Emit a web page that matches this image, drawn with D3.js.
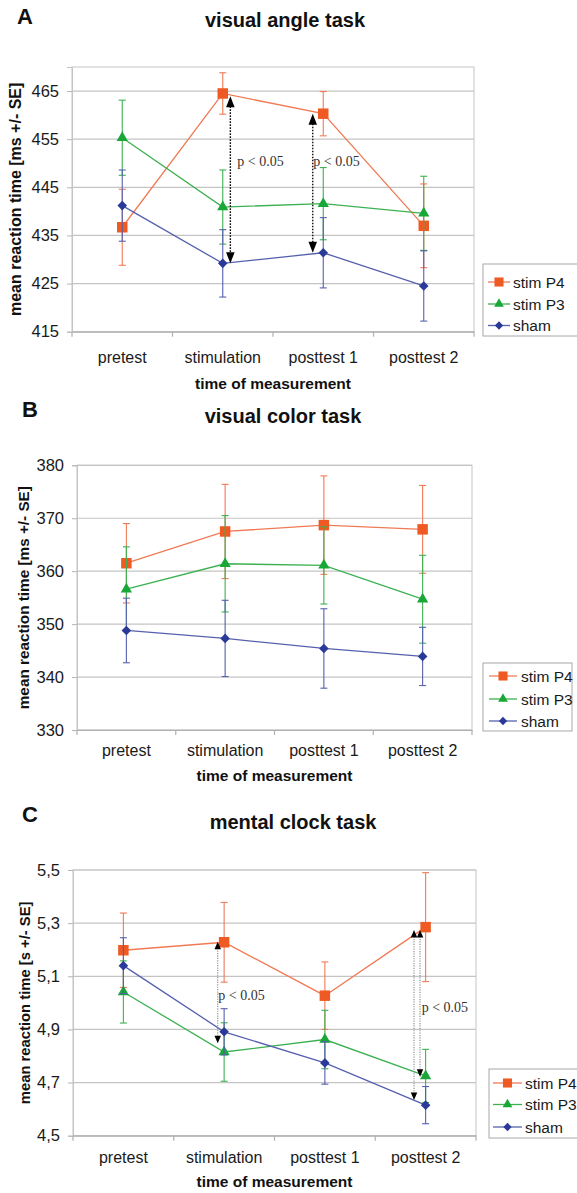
<!DOCTYPE html>
<html><head><meta charset="utf-8">
<script src="https://cdn.jsdelivr.net/npm/d3@7"></script>
<style>body{margin:0;background:#fff}</style>
</head><body><div id="chart"></div>
<script>
// ---------- data ----------
const categories = ["pretest", "stimulation", "posttest 1", "posttest 2"];
const seriesNames = ["stim P4", "stim P3", "sham"];

// A: visual angle task (ms)
const angleTicks = [415, 425, 435, 445, 455, 465];
const angleP4 = [436.7, 464.5, 460.3, 437.0];
const angleP4Err = [7.9, 4.3, 4.6, 8.7];
const angleP3 = [455.3, 440.9, 441.6, 439.6];
const angleP3Err = [7.8, 7.7, 7.5, 7.7];
const angleSham = [441.2, 429.2, 431.4, 424.5];
const angleShamErr = [7.4, 7.0, 7.3, 7.3];
const angleSigCats = ["stimulation", "posttest 1"];
const angleSigTop = [463.9, 460.3];
const angleSigBottom = [429.2, 431.4];
const angleSigLabelCats = ["stimulation", "posttest 1"];
const angleSigLabelVals = [449.5, 449.5];

// B: visual color task (ms)
const colorTicks = [330, 340, 350, 360, 370, 380];
const colorP4 = [361.5, 367.5, 368.7, 367.9];
const colorP4Err = [7.5, 8.9, 9.3, 8.3];
const colorP3 = [356.6, 361.4, 361.1, 354.7];
const colorP3Err = [8.0, 9.1, 7.3, 8.3];
const colorSham = [348.8, 347.3, 345.4, 343.9];
const colorShamErr = [6.1, 7.2, 7.5, 5.5];

// C: mental clock task (s)
const clockTicks = [4.5, 4.7, 4.9, 5.1, 5.3, 5.5];
const clockP4 = [5.198, 5.228, 5.027, 5.285];
const clockP4Err = [0.14, 0.15, 0.127, 0.205];
const clockP3 = [5.041, 4.815, 4.862, 4.725];
const clockP3Err = [0.117, 0.11, 0.11, 0.1];
const clockSham = [5.140, 4.891, 4.774, 4.615];
const clockShamErr = [0.105, 0.087, 0.08, 0.07];
const clockSigCats = ["stimulation", "posttest 2", "posttest 2"];
const clockSigTop = [5.23, 5.274, 5.274];
const clockSigBottom = [4.848, 4.634, 4.722];
const clockSigLabelCats = ["stimulation", "posttest 2"];
const clockSigLabelVals = [5.011, 4.967];

// ---------- styles ----------
const seriesStyle = [
  {marker: "#EF5A24", line: "#F07A55", symbol: "square"},
  {marker: "#19A838", line: "#3CB152", symbol: "triangle"},
  {marker: "#2A3A98", line: "#5560AE", symbol: "diamond"}
];

const W = 577, H = 1193;
const svg = d3.select("#chart").append("svg").attr("width", W).attr("height", H)
  .style("font-family", "Arial, 'Liberation Sans', sans-serif");

function symbolPath(kind, scale) {
  scale = scale || 1;
  if (kind === "square") return d3.symbol(d3.symbolSquare, 110 * scale)();
  if (kind === "triangle") return d3.symbol(d3.symbolTriangle, 55 * scale)();
  return d3.symbol(d3.symbolSquare, 46 * scale)();
}
function symbolRot(kind) { return kind === "diamond" ? 45 : 0; }

const dec = d3.format(".1f");
const panels = [
  {
    letter: "A", letterX: 17, letterY: 24, title: "visual angle task", titleX: 285, titleY: 26.5,
    left: 72, right: 474, top: 67, bottom: 331.7, domain: [415, 470], ticks: angleTicks,
    fmt: d3.format("d"), yLabel: "mean reaction time [ms +/- SE]", yLabelX: 15, yLabelSize: 16,
    catY: 363, xTitleY: 388.5,
    values: [angleP4, angleP3, angleSham], errors: [angleP4Err, angleP3Err, angleShamErr],
    legend: {x: 483, y: 264, w: 96, h: 72, rows: [282, 304, 325.5], lx1: 488, lx2: 510, tx: 513},
    sig: {cats: angleSigCats, top: angleSigTop, bottom: angleSigBottom, dx: [7.6, -10.5],
          lineColor: "#111", dash: "1.6,1.4", lineW: 1.4, headW: 8.5, headH: 11,
          labelCats: angleSigLabelCats, labelVals: angleSigLabelVals, labelDx: [14.6, -10]}
  },
  {
    letter: "B", letterX: 22, letterY: 416.7, title: "visual color task", titleX: 283, titleY: 423.3,
    left: 77, right: 472, top: 465.3, bottom: 730, domain: [330, 380], ticks: colorTicks,
    fmt: d3.format("d"), yLabel: "mean reaction time [ms +/- SE]", yLabelX: 23, yLabelSize: 15.3,
    catY: 756, xTitleY: 781,
    values: [colorP4, colorP3, colorSham], errors: [colorP4Err, colorP3Err, colorShamErr],
    legend: {x: 483, y: 663, w: 89, h: 68, rows: [676, 699, 721], lx1: 489, lx2: 517, tx: 521},
    sig: null
  },
  {
    letter: "C", letterX: 22, letterY: 821.7, title: "mental clock task", titleX: 293, titleY: 829.3,
    left: 73, right: 476, top: 870, bottom: 1135.7, domain: [4.5, 5.5], ticks: clockTicks,
    fmt: v => dec(v).replace(".", ","), yLabel: "mean reaction time [s +/- SE]", yLabelX: 25, yLabelSize: 14.8,
    catY: 1162.7, xTitleY: 1187,
    values: [clockP4, clockP3, clockSham], errors: [clockP4Err, clockP3Err, clockShamErr],
    legend: {x: 489, y: 1069, w: 90, h: 69, rows: [1083, 1104.5, 1127], lx1: 493, lx2: 522, tx: 525},
    sig: {cats: clockSigCats, top: clockSigTop, bottom: clockSigBottom, dx: [-6.4, -11.6, -5.6],
          lineColor: "#8a8a8a", dash: "1.2,1.2", lineW: 1.1, headW: 6.5, headH: 7.5,
          labelCats: clockSigLabelCats, labelVals: clockSigLabelVals, labelDx: [-5.8, -3.9]}
  }
];

panels.forEach(p => {
  const g = svg.append("g");
  const x = d3.scaleBand().domain(categories).range([p.left, p.right]);
  const y = d3.scaleLinear().domain(p.domain).range([p.bottom, p.top]);
  const cx = c => x(c) + x.bandwidth() / 2;

  // letter and title
  g.append("text").attr("x", p.letterX).attr("y", p.letterY).text(p.letter)
    .attr("font-size", 22).attr("font-weight", "bold").attr("fill", "#111");
  g.append("text").attr("x", p.titleX).attr("y", p.titleY).text(p.title)
    .attr("text-anchor", "middle").attr("font-size", 20).attr("font-weight", "bold").attr("fill", "#111");

  // plot border
  g.append("rect").attr("x", p.left).attr("y", p.top)
    .attr("width", p.right - p.left).attr("height", p.bottom - p.top)
    .attr("fill", "none").attr("stroke", "#cfcfcf").attr("stroke-width", 1.2);

  // gridlines
  g.selectAll("line.grid").data(p.ticks).join("line").attr("class", "grid")
    .attr("x1", p.left).attr("x2", p.right)
    .attr("y1", d => y(d)).attr("y2", d => y(d))
    .attr("stroke", "#c4c4c4").attr("stroke-width", 1.2);

  // y axis
  const ya = g.append("g").attr("transform", `translate(${p.left},0)`)
    .call(d3.axisLeft(y).tickValues(p.ticks).tickSize(5).tickPadding(8).tickFormat(p.fmt));
  ya.select(".domain").attr("stroke", "#c4c4c4");
  ya.selectAll(".tick line").attr("stroke", "#b4b4b4");
  ya.selectAll(".tick text").attr("font-size", 16.5).attr("fill", "#1a1a1a")
    .attr("font-family", "Arial, 'Liberation Sans', sans-serif");

  // x axis (category labels)
  const xa = g.append("g").attr("transform", `translate(0,${p.bottom})`)
    .call(d3.axisBottom(x).tickSize(0));
  xa.select(".domain").attr("stroke", "#b0b0b0").attr("stroke-width", 1.2);
  xa.selectAll(".tick text").attr("y", p.catY - p.bottom).attr("dy", null)
    .attr("font-size", 16).attr("fill", "#1a1a1a")
    .attr("font-family", "Arial, 'Liberation Sans', sans-serif");
  // band boundary ticks
  const bounds = x.domain().map(c => x(c)).concat([x.range()[1]]);
  g.selectAll("line.xtick").data(bounds).join("line").attr("class", "xtick")
    .attr("x1", d => d).attr("x2", d => d).attr("y1", p.bottom).attr("y2", p.bottom + 5)
    .attr("stroke", "#b0b0b0").attr("stroke-width", 1.2);

  // axis titles
  g.append("text").attr("x", (p.left + p.right) / 2).attr("y", p.xTitleY)
    .attr("text-anchor", "middle").attr("font-size", 15.5).attr("font-weight", "bold")
    .attr("fill", "#111").text("time of measurement");
  g.append("text").attr("transform", `translate(${p.yLabelX},${(p.top + p.bottom) / 2}) rotate(-90)`)
    .attr("text-anchor", "middle").attr("dominant-baseline", "central")
    .attr("font-size", p.yLabelSize).attr("font-weight", "bold").attr("fill", "#111").text(p.yLabel);

  // series
  p.values.forEach((vals, si) => {
    const st = seriesStyle[si];
    const errs = p.errors[si];
    const data = vals.map((v, i) => ({c: categories[i], v: v, e: errs[i]}));
    const sg = g.append("g");
    sg.selectAll("line.eb").data(data).join("line").attr("class", "eb")
      .attr("x1", d => cx(d.c)).attr("x2", d => cx(d.c))
      .attr("y1", d => y(d.v - d.e)).attr("y2", d => y(d.v + d.e))
      .attr("stroke", st.line).attr("stroke-width", 1.1);
    ["lo", "hi"].forEach(k => {
      sg.selectAll("line.cap" + k).data(data).join("line").attr("class", "cap" + k)
        .attr("x1", d => cx(d.c) - 3.5).attr("x2", d => cx(d.c) + 3.5)
        .attr("y1", d => y(k === "lo" ? d.v - d.e : d.v + d.e))
        .attr("y2", d => y(k === "lo" ? d.v - d.e : d.v + d.e))
        .attr("stroke", st.line).attr("stroke-width", 1.1);
    });
    sg.append("path").datum(data)
      .attr("d", d3.line().x(d => cx(d.c)).y(d => y(d.v)))
      .attr("fill", "none").attr("stroke", st.line).attr("stroke-width", 1.3);
    sg.selectAll("path.mk").data(data).join("path").attr("class", "mk")
      .attr("d", symbolPath(st.symbol))
      .attr("transform", d => `translate(${cx(d.c)},${y(d.v)}) rotate(${symbolRot(st.symbol)})`)
      .attr("fill", st.marker);
  });

  // significance arrows
  if (p.sig) {
    const s = p.sig;
    const arrows = s.cats.map((c, i) => ({c: c, t: s.top[i], b: s.bottom[i], dx: s.dx[i]}));
    const ag = g.append("g");
    ag.selectAll("line.sig").data(arrows).join("line").attr("class", "sig")
      .attr("x1", d => cx(d.c) + d.dx).attr("x2", d => cx(d.c) + d.dx)
      .attr("y1", d => y(d.t) + s.headH - 1).attr("y2", d => y(d.b) - s.headH + 1)
      .attr("stroke", s.lineColor).attr("stroke-width", s.lineW).attr("stroke-dasharray", s.dash);
    ag.selectAll("path.up").data(arrows).join("path").attr("class", "up")
      .attr("d", d => {
        const xx = cx(d.c) + d.dx, yy = y(d.t);
        return `M${xx},${yy}L${xx + s.headW / 2},${yy + s.headH}L${xx - s.headW / 2},${yy + s.headH}Z`;
      }).attr("fill", "#000");
    ag.selectAll("path.down").data(arrows).join("path").attr("class", "down")
      .attr("d", d => {
        const xx = cx(d.c) + d.dx, yy = y(d.b);
        return `M${xx},${yy}L${xx + s.headW / 2},${yy - s.headH}L${xx - s.headW / 2},${yy - s.headH}Z`;
      }).attr("fill", "#000");
    const labels = s.labelCats.map((c, i) => ({c: c, v: s.labelVals[i], dx: s.labelDx[i]}));
    ag.selectAll("text.sigl").data(labels).join("text").attr("class", "sigl")
      .attr("x", d => cx(d.c) + d.dx).attr("y", d => y(d.v))
      .attr("font-family", "'Liberation Serif', 'Times New Roman', serif")
      .attr("font-size", 14).attr("fill", "#333").text("p < 0.05");
  }

  // legend
  const L = p.legend;
  const lg = g.append("g");
  lg.append("rect").attr("x", L.x).attr("y", L.y).attr("width", L.w).attr("height", L.h)
    .attr("fill", "#fff").attr("stroke", "#a8a8a8").attr("stroke-width", 1);
  seriesNames.forEach((nm, i) => {
    const st = seriesStyle[i];
    const ry = L.rows[i];
    lg.append("line").attr("x1", L.lx1).attr("x2", L.lx2).attr("y1", ry).attr("y2", ry)
      .attr("stroke", st.line).attr("stroke-width", 1.3);
    lg.append("path").attr("d", symbolPath(st.symbol, 0.75))
      .attr("transform", `translate(${(L.lx1 + L.lx2) / 2},${ry}) rotate(${symbolRot(st.symbol)})`)
      .attr("fill", st.marker);
    lg.append("text").attr("x", L.tx).attr("y", ry).attr("dominant-baseline", "central")
      .attr("font-size", 15.5).attr("fill", "#1a1a1a").text(nm);
  });
});
</script>
</body></html>
